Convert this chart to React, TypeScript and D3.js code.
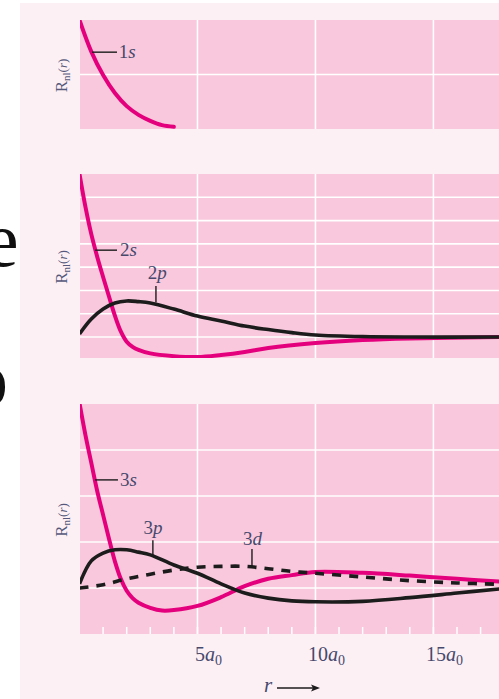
import React from "react";
import * as d3 from "d3";

// ---- data (r in units of a0, R in arbitrary panel units) ----
const curve1s: [number, number][] = [
  [0, 2.0], [0.5, 1.42], [1, 0.99], [1.5, 0.66], [2, 0.42], [2.5, 0.26], [3, 0.15], [3.5, 0.07], [4, 0.04],
];
const curve2s: [number, number][] = [
  [0, 7.0], [0.25, 5.6], [0.5, 4.42], [0.75, 3.45], [1, 2.58], [1.25, 1.74], [1.5, 0.92], [1.75, 0.24],
  [2, -0.2], [2.25, -0.42], [2.5, -0.55], [3, -0.7], [4, -0.82], [5, -0.86], [6, -0.77], [7, -0.64], [8, -0.47],
  [10, -0.26], [12, -0.13], [14, -0.06], [17.8, 0],
];
const curve2p: [number, number][] = [
  [0, 0.13], [0.5, 0.77], [1, 1.2], [1.5, 1.46], [2, 1.55], [2.5, 1.52], [3, 1.46], [4, 1.2], [5, 0.9],
  [6, 0.69], [7, 0.47], [8, 0.32], [9, 0.19], [10, 0.09], [12, 0.02], [14, 0], [17.8, 0],
];
const curve3s: [number, number][] = [
  [0, 4.02], [0.25, 3.33], [0.5, 2.72], [0.75, 2.11], [1, 1.59], [1.25, 1.07], [1.5, 0.58], [1.75, 0.2],
  [2, -0.06], [2.25, -0.22], [2.5, -0.32], [3, -0.43], [3.5, -0.49], [4, -0.48], [5, -0.39], [6, -0.2], [7, 0.04],
  [8, 0.2], [9, 0.28], [10, 0.35], [12, 0.33], [14, 0.27], [16, 0.2], [17.8, 0.14],
];
const curve3p: [number, number][] = [
  [0, 0.09], [0.5, 0.59], [1, 0.76], [1.5, 0.83], [2, 0.83], [2.5, 0.78], [3, 0.72], [4, 0.5], [5, 0.32],
  [6, 0.09], [7, -0.11], [8, -0.22], [9, -0.28], [10, -0.3], [12, -0.29], [14, -0.21], [16, -0.11], [17.8, -0.02],
];
const curve3d: [number, number][] = [
  [0, 0.0], [1, 0.07], [2, 0.2], [3, 0.3], [4, 0.39], [5, 0.45], [6, 0.47], [7, 0.47], [8, 0.42],
  [9, 0.36], [10, 0.32], [12, 0.24], [14, 0.16], [16, 0.11], [17.8, 0.08],
];
const xTickValues = [5, 10, 15];
const xTickLabels = ["5", "10", "15"];
const minorTicks = d3.range(1, 18);

const MAGENTA = "#e4007d";
const BLACK = "#1c1c1c";
const PINK = "#f9c8dc";
const LIGHT = "#fdf0f5";
const TEXT = "#46496c";

const x = d3.scaleLinear().domain([0, 17.78]).range([79.5, 499]);

type Panel = { top: number; bottom: number; domain: [number, number]; grid: number[] };
const panels: Panel[] = [
  { top: 20, bottom: 129, domain: [0, 2], grid: [1] },
  { top: 174, bottom: 358, domain: [-0.9, 7], grid: [0, 1, 2, 3, 4, 5, 6] },
  { top: 404, bottom: 634, domain: [-1, 4], grid: [0, 1, 2, 3] },
];

const serif = "'Liberation Serif', 'Times New Roman', serif";

function CurveLabel({ num, letter, x0, y0, anchor }: { num: string; letter: string; x0: number; y0: number; anchor: "start" | "middle" }) {
  return (
    <text x={x0} y={y0} fontFamily={serif} fontSize={19} fill={TEXT} textAnchor={anchor}>
      {num}
      <tspan fontStyle="italic">{letter}</tspan>
    </text>
  );
}

export default function App() {
  const ys = panels.map((p) => d3.scaleLinear().domain(p.domain).range([p.bottom, p.top]));
  const lineFor = (yS: d3.ScaleLinear<number, number>) =>
    d3.line<[number, number]>().x((d) => x(d[0])).y((d) => yS(d[1])).curve(d3.curveCatmullRom.alpha(0.5));
  const vGrid = xTickValues;
  const y1 = ys[0], y2 = ys[1], y3 = ys[2];

  return (
    <svg width={499} height={699} style={{ position: "absolute", left: 0, top: 0, display: "block" }}>
      <rect x={0} y={0} width={499} height={699} fill="#ffffff" />
      <text x={-16} y={266} fontFamily={serif} fontSize={78} fill="#111">e</text>
      <text x={-31} y={405} fontFamily={serif} fontSize={78} fill="#111">o</text>
      <rect x={20} y={3} width={479} height={696} fill={LIGHT} />
      <defs>
        {panels.map((p, i) => (
          <clipPath id={`clip${i}`} key={i}>
            <rect x={80} y={p.top} width={419} height={p.bottom - p.top} />
          </clipPath>
        ))}
      </defs>
      {panels.map((p, i) => (
        <g key={i}>
          <rect x={80} y={p.top} width={419} height={p.bottom - p.top} fill={PINK} />
          {p.grid.map((g) => (
            <line key={g} x1={80} x2={499} y1={ys[i](g)} y2={ys[i](g)} stroke="#fff" strokeWidth={1.6} />
          ))}
          {vGrid.map((v) => (
            <line key={v} x1={x(v)} x2={x(v)} y1={p.top} y2={p.bottom} stroke="#fff" strokeWidth={1.6} />
          ))}
          <text
            transform={`translate(67,${(p.top + p.bottom) / 2 + 1}) rotate(-90)`}
            fontFamily={serif}
            fontSize={17}
            fill="#55587a"
            textAnchor="middle"
          >
            R<tspan fontSize={11} dy={3}>nl</tspan>
            <tspan dy={-3} fontSize={13}>(</tspan>
            <tspan fontStyle="italic" fontSize={13}>r</tspan>
            <tspan fontSize={13}>)</tspan>
          </text>
        </g>
      ))}
      {/* minor ticks on bottom panel */}
      {minorTicks.map((t) => (
        <line key={t} x1={x(t)} x2={x(t)} y1={627} y2={634} stroke="#fff" strokeWidth={1.5} />
      ))}

      {/* panel 1 */}
      <g clipPath="url(#clip0)">
        <path d={lineFor(y1)(curve1s) || ""} fill="none" stroke={MAGENTA} strokeWidth={4} strokeLinecap="round" />
      </g>
      {/* panel 2 */}
      <g clipPath="url(#clip1)">
        <path d={lineFor(y2)(curve2s) || ""} fill="none" stroke={MAGENTA} strokeWidth={4} />
        <path d={lineFor(y2)(curve2p) || ""} fill="none" stroke={BLACK} strokeWidth={3.6} />
      </g>
      {/* panel 3 */}
      <g clipPath="url(#clip2)">
        <path d={lineFor(y3)(curve3s) || ""} fill="none" stroke={MAGENTA} strokeWidth={4} />
        <path d={lineFor(y3)(curve3d) || ""} fill="none" stroke={BLACK} strokeWidth={3.6} strokeDasharray="9,8" />
        <path d={lineFor(y3)(curve3p) || ""} fill="none" stroke={BLACK} strokeWidth={3.6} />
      </g>

      {/* curve labels */}
      <line x1={x(0.53)} x2={x(1.59)} y1={y1(1.41)} y2={y1(1.41)} stroke={BLACK} strokeWidth={1.4} />
      <CurveLabel num="1" letter="s" x0={x(1.66)} y0={y1(1.41) + 6} anchor="start" />

      <line x1={x(0.66)} x2={x(1.59)} y1={y2(3.73)} y2={y2(3.73)} stroke={BLACK} strokeWidth={1.4} />
      <CurveLabel num="2" letter="s" x0={x(1.72)} y0={y2(3.73) + 6} anchor="start" />

      <line x1={x(3.24)} x2={x(3.24)} y1={y2(2.19)} y2={y2(1.48)} stroke={BLACK} strokeWidth={1.4} />
      <CurveLabel num="2" letter="p" x0={x(3.3)} y0={y2(2.19) - 7} anchor="middle" />

      <line x1={x(0.66)} x2={x(1.63)} y1={y3(2.35)} y2={y3(2.35)} stroke={BLACK} strokeWidth={1.4} />
      <CurveLabel num="3" letter="s" x0={x(1.72)} y0={y3(2.35) + 6} anchor="start" />

      <line x1={x(3.11)} x2={x(3.11)} y1={y3(1.04)} y2={y3(0.69)} stroke={BLACK} strokeWidth={1.4} />
      <CurveLabel num="3" letter="p" x0={x(3.11)} y0={y3(1.04) - 6} anchor="middle" />

      <line x1={x(7.31)} x2={x(7.31)} y1={y3(0.85)} y2={y3(0.46)} stroke={BLACK} strokeWidth={1.4} />
      <CurveLabel num="3" letter="d" x0={x(7.33)} y0={y3(0.85) - 4} anchor="middle" />

      {/* x tick labels */}
      {xTickValues.map((v, i) => (
        <text key={v} x={x(v) + 11} y={661} fontFamily={serif} fontSize={20} fill={TEXT} textAnchor="middle">
          {xTickLabels[i]}
          <tspan fontStyle="italic">a</tspan>
          <tspan fontSize={14} dy={4}>0</tspan>
        </text>
      ))}
      <text x={264} y={692} fontFamily={serif} fontSize={21} fontStyle="italic" fill={TEXT}>r</text>
      <line x1={277} x2={313} y1={688} y2={688} stroke={BLACK} strokeWidth={1.3} />
      <path d="M311,684.5 L320,688 L311,691.5 L313,688 Z" fill={BLACK} />
    </svg>
  );
}
